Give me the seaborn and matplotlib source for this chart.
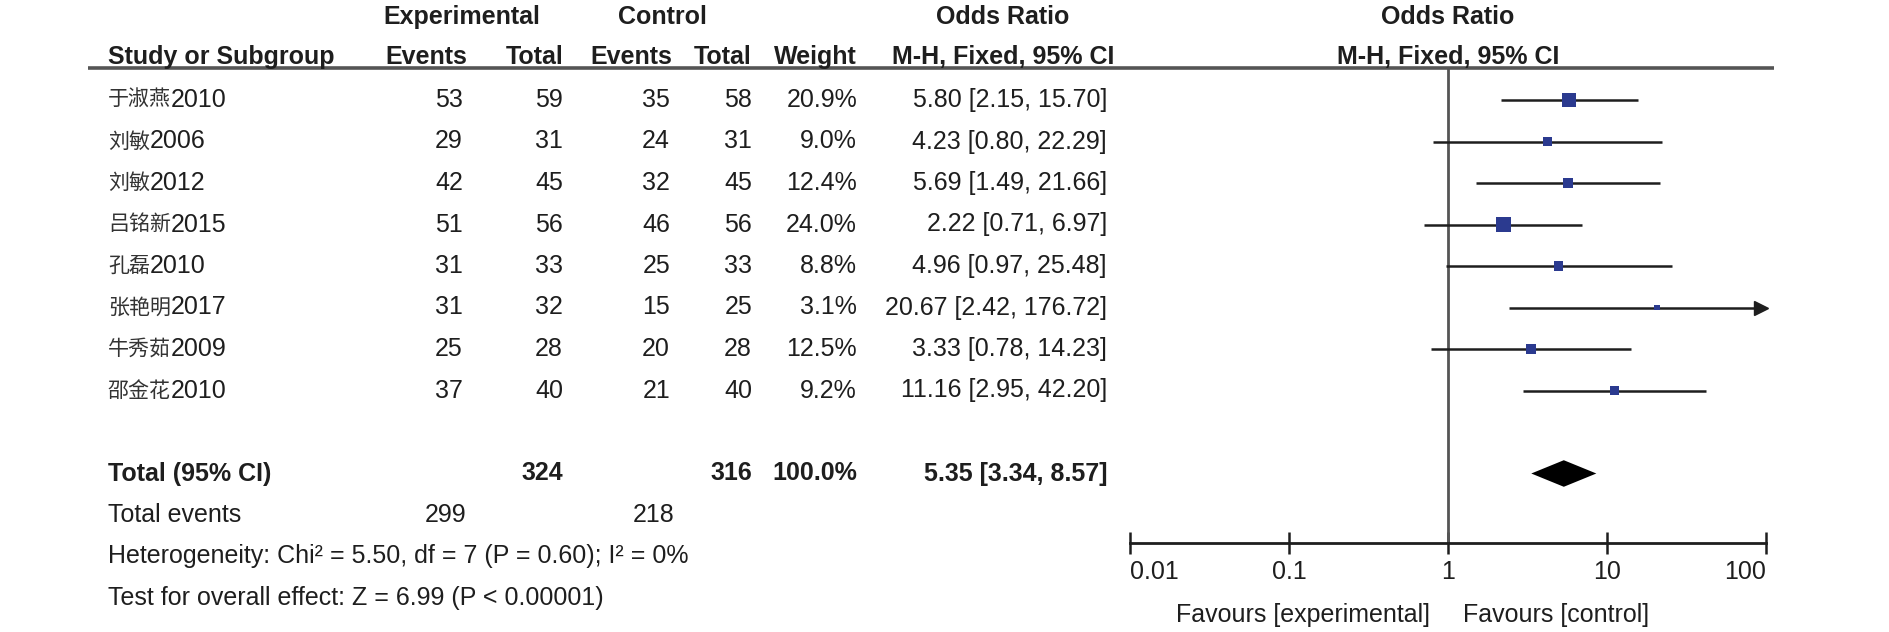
## Forest plot: odds ratio meta-analysis (M-H, fixed)
import numpy as np
import pandas as pd
import matplotlib
matplotlib.use("Agg")
import matplotlib.pyplot as plt
from matplotlib import font_manager
import seaborn as sns

# data
study = ['于淑燕2010', '刘敏2006', '刘敏2012', '吕铭新2015', '孔磊2010', '张艳明2017', '牛秀茹2009', '邵金花2010']
exp_events = [53, 29, 42, 51, 31, 31, 25, 37]
exp_total = [59, 31, 45, 56, 33, 32, 28, 40]
ctl_events = [35, 24, 32, 46, 25, 15, 20, 21]
ctl_total = [58, 31, 45, 56, 33, 25, 28, 40]
weight = [20.9, 9.0, 12.4, 24.0, 8.8, 3.1, 12.5, 9.2]
odds = [5.80, 4.23, 5.69, 2.22, 4.96, 20.67, 3.33, 11.16]
ci_low = [2.15, 0.80, 1.49, 0.71, 0.97, 2.42, 0.78, 2.95]
ci_high = [15.70, 22.29, 21.66, 6.97, 25.48, 176.72, 14.23, 42.20]

total_exp, total_ctl = 324, 316
total_weight = 100.0
total_events_exp, total_events_ctl = 299, 218
pooled = (5.35, 3.34, 8.57)
heterogeneity = 'Heterogeneity: Chi² = 5.50, df = 7 (P = 0.60); I² = 0%'
overall = 'Test for overall effect: Z = 6.99 (P < 0.00001)'

tick_vals = [0.01, 0.1, 1, 10, 100]
tick_labels = ['0.01', '0.1', '1', '10', '100']

df = pd.DataFrame({'study': study, 'odds': odds, 'lo': ci_low, 'hi': ci_high,
                   'weight': weight, 'row': np.arange(len(study))})

sns.set_theme(style='white')
names = {f.name for f in font_manager.fontManager.ttflist}
if 'Liberation Sans Narrow' in names:
    FONT, FS = 'Liberation Sans Narrow', 22
else:
    FONT, FS = 'Liberation Sans', 18
plt.rcParams['font.family'] = [FONT, 'Noto Sans CJK SC', 'DejaVu Sans']
INK = '#1e1e1e'

W, H = 1890, 632
Y0, DY = 100, 41.5          # pixel row grid


def fig_y(r):
    return 1 - (Y0 + DY * r) / H


fig = plt.figure(figsize=(W / 100, H / 100), dpi=100)

# table axes (x in pixels, y in row units)
tab = fig.add_axes([0, 0, 1, 1])
tab.set_xlim(0, W)
tab.set_ylim((H - Y0) / DY, -Y0 / DY)
tab.axis('off')


def txt(x, r, s, ha='right', bold=False, **kw):
    tab.text(x, r, s, ha=ha, va='center', fontsize=FS, color=INK,
             fontweight='bold' if bold else 'normal', **kw)


# header
txt(462, -2.0, 'Experimental', ha='center', bold=True)
txt(662, -2.0, 'Control', ha='center', bold=True)
txt(1003, -2.0, 'Odds Ratio', ha='center', bold=True)
txt(1448, -2.0, 'Odds Ratio', ha='center', bold=True)
txt(108, -1.04, 'Study or Subgroup', ha='left', bold=True)
txt(467, -1.04, 'Events', bold=True)
txt(563, -1.04, 'Total', bold=True)
txt(672, -1.04, 'Events', bold=True)
txt(752, -1.04, 'Total', bold=True)
txt(857, -1.04, 'Weight', bold=True)
txt(1003, -1.04, 'M-H, Fixed, 95% CI', ha='center', bold=True)
txt(1448, -1.04, 'M-H, Fixed, 95% CI', ha='center', bold=True)
tab.plot([88, 1774], [-0.77, -0.77], color='#555555', lw=2.6, solid_capstyle='butt')

# study rows
for i, name in enumerate(study):
    t = tab.text(108, i, name[:-4], ha='left', va='center', fontsize=FS * 0.84,
                 color='#333333', family=['Noto Sans CJK SC', 'DejaVu Sans'])
    tab.annotate(name[-4:], xy=(1, 0.5), xycoords=t, ha='left', va='center',
                 fontsize=FS, color=INK)
    txt(463, i, str(exp_events[i]))
    txt(563, i, str(exp_total[i]))
    txt(670, i, str(ctl_events[i]))
    txt(752, i, str(ctl_total[i]))
    txt(857, i, f'{weight[i]:.1f}%')
    txt(1107, i, f'{odds[i]:.2f} [{ci_low[i]:.2f}, {ci_high[i]:.2f}]')

# totals
txt(108, 9, 'Total (95% CI)', ha='left', bold=True)
txt(563, 9, str(total_exp), bold=True)
txt(752, 9, str(total_ctl), bold=True)
txt(857, 9, f'{total_weight:.1f}%', bold=True)
txt(1107, 9, f'{pooled[0]:.2f} [{pooled[1]:.2f}, {pooled[2]:.2f}]', bold=True)
txt(108, 10, 'Total events', ha='left')
txt(466, 10, str(total_events_exp))
txt(674, 10, str(total_events_ctl))
txt(108, 11, heterogeneity, ha='left')
txt(108, 12, overall, ha='left')

txt(1430, 12.4, 'Favours [experimental]')
txt(1463, 12.4, 'Favours [control]', ha='left')

# forest panel
x_left, x_right = 1130, 1766
r_top, r_bot = -0.771, 10.675
ax = fig.add_axes([x_left / W, fig_y(r_bot), (x_right - x_left) / W, fig_y(r_top) - fig_y(r_bot)])
ax.patch.set_alpha(0)
ax.set_xscale('log')
xmin, xmax = tick_vals[0], tick_vals[-1]
ax.set_xlim(xmin, xmax)
ax.set_ylim(r_bot, r_top)

ax.axvline(1, color='#555555', lw=2, zorder=1)
hi_clip = np.minimum(df['hi'], xmax)
ax.hlines(df['row'], df['lo'], hi_clip, color=INK, lw=1.8, zorder=2)
arrow = df[df['hi'] > xmax]
ax.plot(np.full(len(arrow), xmax * 0.93), arrow['row'], marker='>', ms=10,
        color=INK, ls='none', clip_on=False)

side_max = 15 / 1.389
s_max = side_max ** 2
s_min = s_max * min(weight) / max(weight)
sns.scatterplot(data=df, x='odds', y='row', size='weight', sizes=(s_min, s_max),
                size_norm=(min(weight), max(weight)), marker='s', color='#2b3a8f',
                linewidth=0, legend=False, ax=ax, zorder=3)

h = 0.32
est, lo, hi = pooled
r = 9
ax.fill([lo, est, hi, est], [r, r - h, r, r + h], color='black', lw=0, zorder=3)

for side in ['top', 'left', 'right']:
    ax.spines[side].set_visible(False)
ax.spines['bottom'].set_color(INK)
ax.spines['bottom'].set_linewidth(2)
ax.set_yticks([])
ax.set_xticks(tick_vals)
ax.set_xticklabels(tick_labels)
ax.minorticks_off()
ax.tick_params(axis='x', bottom=True, direction='inout', length=16, width=1.8, color=INK,
               labelsize=FS, labelcolor=INK, pad=4)
labels = ax.get_xticklabels()
labels[0].set_ha('left')
labels[-1].set_ha('right')
ax.set_xlabel('')
ax.set_ylabel('')

fig.savefig('out.png', dpi=100)
